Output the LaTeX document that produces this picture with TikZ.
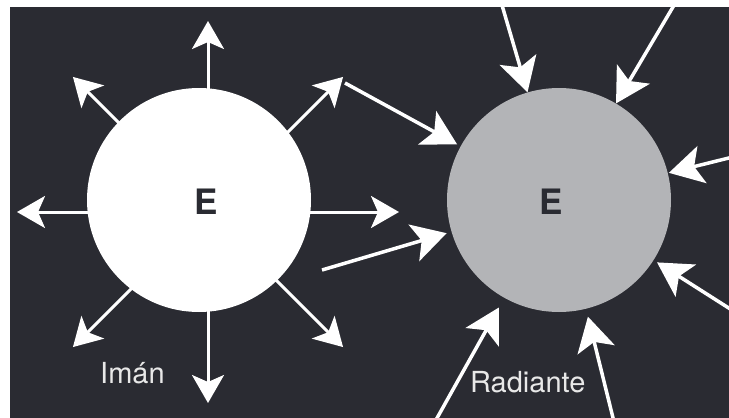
\documentclass[tikz,border=0pt]{standalone}
\usepackage{fontspec}
\setmainfont{TeX Gyre Heros}
\usetikzlibrary{arrows.meta,calc}
\definecolor{panel}{RGB}{42,43,50}
\definecolor{disc}{RGB}{179,180,183}
\definecolor{labelgray}{RGB}{232,232,232}
\begin{document}
\begin{tikzpicture}[x=1pt,y=-1pt,
  outarrow/.style={draw=white, line width=3pt, -{Stealth[length=28pt,width=32pt,inset=7pt]}},
  inarrow/.style={draw=white, line width=3.5pt, -{Stealth[length=34pt,width=38pt,inset=8pt]}},
  pole/.style={circle, minimum size=224pt, inner sep=0pt},
  letter/.style={font=\bfseries\fontsize{35}{35}\selectfont, text=panel, inner sep=0pt},
  caption/.style={font=\fontsize{29}{29}\selectfont, text=labelgray, anchor=base west, inner sep=0pt}]
\useasboundingbox (0,0) rectangle (729,418);
\fill[white] (0,0) rectangle (729,418);
\fill[panel] (10,7) rectangle (729,418);
\begin{scope}
  \clip (10,7) rectangle (729,418);
  % magnet: field lines leaving the sphere
  \coordinate (wc) at (208,212);
  \foreach \a in {0,45,...,315} {
    \coordinate (tip\a) at ($(wc)+(\a:191)$);
    \draw[outarrow] (wc) -- (tip\a);
  }
  \node[pole, fill=white] (magnet) at (199,200) {};
  \node[letter] (magnetE) at (206,202) {E};
  % radiant body: rays arriving at the sphere
  \node[pole, fill=disc] (radiant) at (559,200) {};
  \node[letter] (radiantE) at (551,202) {E};
  \coordinate (r1) at (345,83);
  \coordinate (r2) at (322,270);
  \coordinate (r3) at (497,-12);
  \coordinate (r4) at (683,-10);
  \coordinate (r5) at (749,153);
  \coordinate (r6) at (746,319);
  \coordinate (r7) at (618,438);
  \coordinate (r8) at (427,436);
  \draw[inarrow, shorten >=4pt] (r1) -- (radiant);
  \draw[inarrow, shorten >=5pt] (r2) -- (radiant);
  \draw[inarrow] (r3) -- (radiant);
  \draw[inarrow] (r4) -- (radiant);
  \draw[inarrow, shorten >=1pt] (r5) -- (radiant);
  \draw[inarrow, shorten >=4pt] (r6) -- (radiant);
  \draw[inarrow, shorten >=8pt] (r7) -- (radiant);
  \draw[inarrow, shorten >=11pt] (r8) -- (radiant);
  % captions
  \node[caption] (imanlabel) at (100,383) {Imán};
  \node[caption] (radlabel) at (470,392) {Radiante};
\end{scope}
\end{tikzpicture}
\end{document}
